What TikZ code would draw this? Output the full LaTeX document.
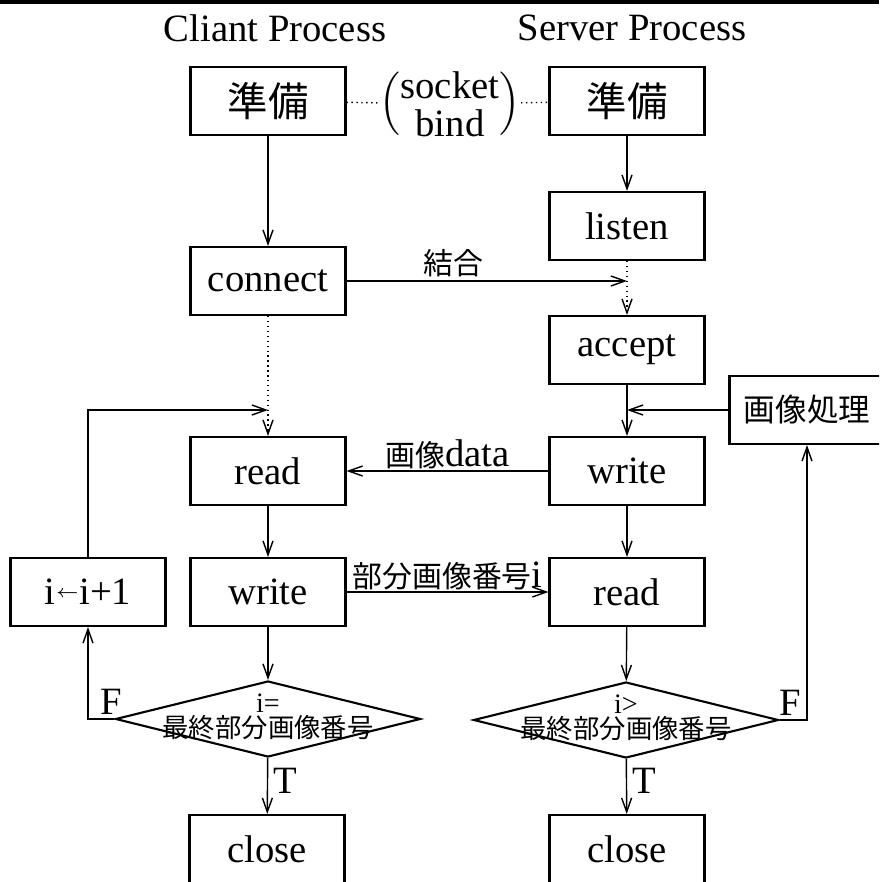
\documentclass[tikz,border=0pt]{standalone}
\usepackage{fontspec}
\setmainfont{Liberation Serif}
\newfontfamily\jpfont{Noto Sans CJK JP}
\usetikzlibrary{arrows.meta,shapes.geometric,calc}
\tikzset{
	stepbox/.style={draw, line width=0.6pt, minimum width=15.5mm, minimum height=6.8mm, inner sep=0pt, font=\fontsize{11}{13}\selectfont},
	jbox/.style={stepbox, font=\fontsize{11.5}{13}\selectfont\jpfont},
	decision/.style={draw, diamond, line width=0.6pt, minimum width=30.5mm, minimum height=7.6mm, inner sep=0pt},
	flow/.style={->, line width=0.4pt},
	tag/.style={font=\fontsize{11}{13}\selectfont},
	>={Straight Barb[length=1.4mm,width=1mm]}
}
\newcommand{\jsmall}[1]{{\fontsize{8.5}{10}\selectfont\jpfont #1}}

\begin{document}
\begin{tikzpicture}[x=0.1mm, y=-0.1mm]
		\useasboundingbox (0,0) rectangle (879,882);
		\clip (0,0) rectangle (879,882);
		\draw [line width=0.9pt]	(0,2) -- (879,2);

		\node [tag] (ctitle) at (275,28) {Cliant Process};
		\node [tag] (stitle) at (632,28) {Server Process};

		\node [jbox] (cprep) at (268,101) {準備};
		\node [jbox] (sprep) at (627,101) {準備};
		\node [tag, inner sep=0pt] (sockbind) at (450,104) {$\left(\vcenter{\hbox{\shortstack{socket\\bind}}}\right)$};
		\node [stepbox] (listen) at (627,226) {listen};
		\node [stepbox] (connect) at (268,281) {connect};
		\node [stepbox] (accept) at (627,350) {accept};
		\node [jbox, font=\fontsize{9}{11}\selectfont\jpfont] (proc) at (807,410) {画像処理};
		\node [stepbox] (cread) at (268,471) {read};
		\node [stepbox] (swrite) at (627,471) {write};
		\node [stepbox] (incr) at (88,592) {i\raisebox{2pt}{\fontsize{5.5}{6}\selectfont$\leftarrow$}i+1};
		\node [stepbox] (cwrite) at (268,592) {write};
		\node [stepbox] (sread) at (627,592) {read};
		\node [decision, label={[align=center, yshift=0.2mm, inner sep=0pt]center:{\fontsize{8}{8}\selectfont i=\\[-5pt]\fontsize{7.5}{9}\selectfont\jpfont 最終部分画像番号}}] (ccheck) at (268,719) {};
		\node [decision, label={[align=center, yshift=0.2mm, inner sep=0pt]center:{\fontsize{8}{8}\selectfont i>\\[-5pt]\fontsize{7.5}{9}\selectfont\jpfont 最終部分画像番号}}] (scheck) at (626,720) {};
		\node [stepbox] (cclose) at (267,849) {close};
		\node [stepbox] (sclose) at (627,849) {close};

		\coordinate (meet) at (listen.south |- connect.east);
		\coordinate (back) at (connect.south |- 0,410);
		\coordinate (merge) at (accept.south |- proc.west);

		\draw [densely dotted]	(cprep) -- (sockbind);
		\draw [densely dotted]	(sockbind) -- (sprep);
		\draw [flow]	(cprep) -- (connect);
		\draw [flow]	(sprep) -- (listen);
		\draw [flow]	(connect) to node [pos=0.38, above, inner sep=1pt]{\jsmall{結合}} (meet);
		\draw [flow, densely dotted]	(listen) -- (accept);
		\draw [flow, densely dotted]	(connect) -- (cread);
		\draw [flow]	(accept) -- (swrite);
		\draw [flow]	(proc) -- (merge);
		\draw [flow]	(swrite) to node [tag, pos=0.5, above, inner sep=0.5pt]{\jsmall{画像}data} (cread);
		\draw [flow]	(cread) -- (cwrite);
		\draw [flow]	(swrite) -- (sread);
		\draw [flow]	(cwrite) to node [tag, pos=0.5, above, inner sep=0.5pt]{\jsmall{部分画像番号}i} (sread);
		\draw [flow]	(incr) |- (back);
		\draw [flow]	(cwrite) -- (ccheck);
		\draw [flow]	(sread) -- (scheck);
		\draw [flow]	(ccheck.west) -| node [tag, pos=0, above, xshift=-0.3mm, inner sep=1pt]{F} (incr);
		\draw [flow]	(scheck.east) -| node [tag, pos=0, above, xshift=1.1mm, inner sep=1pt]{F} (proc);
		\draw [flow]	(ccheck) to node [tag, pos=0.4, right, inner sep=1.5pt]{T} (cclose);
		\draw [flow]	(scheck) to node [tag, pos=0.4, right, inner sep=1.5pt]{T} (sclose);
	\end{tikzpicture}
\end{document}
